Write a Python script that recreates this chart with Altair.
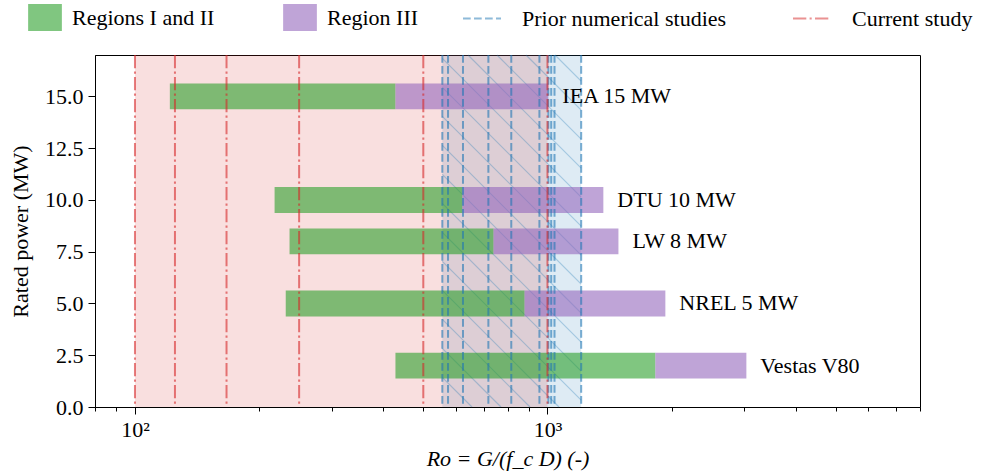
import altair as alt
import numpy as np
import pandas as pd

# ---------------- data ----------------
turbines = ["IEA 15 MW", "DTU 10 MW", "LW 8 MW", "NREL 5 MW", "Vestas V80"]
rated_power = [15.0, 10.0, 8.0, 5.0, 2.0]
ro_start = [121.5, 218.0, 237.0, 232.0, 428.0]      # start of Regions I and II
ro_region3 = [428.0, 622.0, 740.0, 880.0, 1826.0]   # start of Region III
ro_end = [1005.0, 1366.0, 1486.0, 1931.0, 3035.0]   # end of Region III

current_study_ro = [100.0, 125.0, 166.7, 250.0, 500.0, 1000.0]
prior_study_ro = [556.0, 574.0, 624.0, 719.0, 817.0, 956.0, 1005.0, 1021.0, 1040.0, 1207.0]

region_labels = ["Regions I and II", "Region III"]
study_labels = ["Prior numerical studies", "Current study"]

x_ticks = [80, 90, 100, 200, 300, 400, 500, 600, 700, 800, 900,
           1000, 2000, 3000, 4000, 5000, 6000, 7000, 8000]
y_ticks = [0.0, 2.5, 5.0, 7.5, 10.0, 12.5, 15.0]

# ---------------- layout / style ----------------
X_DOMAIN = [80, 8000]
Y_DOMAIN = [0, 17]
W, H = 825, 352
FONT = "Liberation Serif"
FS = 22
BLUE, RED, GREEN, PURPLE = "#1f77b4", "#d62728", "#2ca02c", "#9467bd"

bars = pd.DataFrame({
    "turbine": turbines * 2,
    "power": rated_power * 2,
    "region": [region_labels[0]] * len(turbines) + [region_labels[1]] * len(turbines),
    "lo": ro_start + ro_region3,
    "hi": ro_region3 + ro_end,
})
bars["y_lo"] = bars["power"] - 0.625
bars["y_hi"] = bars["power"] + 0.625

labels = pd.DataFrame({"turbine": turbines, "power": rated_power, "ro": ro_end})

spans = pd.DataFrame({
    "study": study_labels,
    "lo": [min(prior_study_ro), min(current_study_ro)],
    "hi": [max(prior_study_ro), max(current_study_ro)],
})

rules = pd.DataFrame({
    "study": [study_labels[0]] * len(prior_study_ro) + [study_labels[1]] * len(current_study_ro),
    "ro": prior_study_ro + current_study_ro,
})


# hatch pattern ("\\") over the prior-studies span
def hatch_segments(lo, hi, spacing=29.0):
    kx = W / np.log10(X_DOMAIN[1] / X_DOMAIN[0])
    ky = H / (Y_DOMAIN[1] - Y_DOMAIN[0])
    u0 = kx * np.log10(lo / X_DOMAIN[0])
    u1 = kx * np.log10(hi / X_DOMAIN[0])
    rows = []
    c = u0 - (u0 % spacing)
    while c < u1 + H + spacing:
        a = max(u0, c - H)
        b = min(u1, c)
        if b - a > 1:
            rows.append({
                "x": X_DOMAIN[0] * 10 ** (a / kx), "y": (c - a) / ky + Y_DOMAIN[0],
                "x2": X_DOMAIN[0] * 10 ** (b / kx), "y2": (c - b) / ky + Y_DOMAIN[0],
            })
        c += spacing
    return pd.DataFrame(rows)


hatch = hatch_segments(min(prior_study_ro), max(prior_study_ro))

# ---------------- scales / axes ----------------
xs = alt.Scale(type="log", domain=X_DOMAIN)
ys = alt.Scale(domain=Y_DOMAIN, nice=False, zero=False)

x_axis = alt.Axis(
    values=x_ticks,
    labelExpr="datum.value == 100 ? '10²' : (datum.value == 1000 ? '10³' : '')",
    tickSize={"condition": {"test": "datum.value == 100 || datum.value == 1000", "value": 7}, "value": 4},
    title="Ro = G/(f_c D) (-)",
    titleFontStyle="italic",
    labelPadding=5,
    titlePadding=8,
    labelFlush=False,
    labelOverlap=False,
)
y_axis = alt.Axis(
    values=y_ticks, format=".1f", tickSize=7, labelPadding=5,
    title="Rated power (MW)", titlePadding=12,
)

DASHES = [[7.7, 3.3], [13.3, 3.3, 2.1, 3.3]]

region_legend = alt.Legend(
    title=None, orient="none", legendX=-63.5, legendY=-51, direction="horizontal",
    symbolType="M-1.25,-1H1.25V1H-1.25Z", symbolSize=729, symbolOpacity=0.6,
    symbolStrokeWidth=0, labelOffset=13.5, columnPadding=68, padding=0,
    labelFont=FONT, labelFontSize=FS, labelColor="black", labelLimit=400,
)
study_legend = alt.Legend(
    title=None, orient="none", legendX=367, legendY=-56.5, direction="horizontal",
    symbolType="stroke", symbolSize=1444, symbolStrokeWidth=2, symbolOpacity=0.5,
    labelOffset=20, columnPadding=62, padding=0,
    labelFont=FONT, labelFontSize=FS, labelColor="black", labelLimit=400,
)

# ---------------- layers ----------------
span_layer = alt.Chart(spans).mark_rect(opacity=0.15).encode(
    x=alt.X("lo:Q", scale=xs, axis=x_axis),
    x2="hi:Q",
    y=alt.YDatum(Y_DOMAIN[0], scale=ys, axis=y_axis),
    y2=alt.Y2Datum(Y_DOMAIN[1]),
    fill=alt.Fill("study:N", scale=alt.Scale(domain=study_labels, range=[BLUE, RED]), legend=None),
)

hatch_layer = alt.Chart(hatch).mark_rule(color=BLUE, opacity=0.3, strokeWidth=1.2).encode(
    x=alt.X("x:Q", scale=xs, axis=x_axis),
    x2="x2:Q",
    y=alt.Y("y:Q", scale=ys, axis=y_axis),
    y2="y2:Q",
)

bar_layer = alt.Chart(bars).mark_rect(opacity=0.6).encode(
    x=alt.X("lo:Q", scale=xs, axis=x_axis),
    x2="hi:Q",
    y=alt.Y("y_lo:Q", scale=ys, axis=y_axis),
    y2="y_hi:Q",
    color=alt.Color("region:N", scale=alt.Scale(domain=region_labels, range=[GREEN, PURPLE]),
                    legend=region_legend),
)

rule_layer = alt.Chart(rules).mark_rule(strokeWidth=2, opacity=0.6).encode(
    x=alt.X("ro:Q", scale=xs, axis=x_axis),
    stroke=alt.Stroke("study:N", scale=alt.Scale(domain=study_labels, range=[BLUE, RED]),
                      legend=study_legend),
    strokeDash=alt.StrokeDash("study:N",
                              scale=alt.Scale(domain=study_labels, range=DASHES),
                              legend=study_legend),
)

text_layer = alt.Chart(labels).mark_text(
    align="left", baseline="middle", dx=14, font=FONT, fontSize=FS, color="black"
).encode(
    x=alt.X("ro:Q", scale=xs, axis=x_axis),
    y=alt.Y("power:Q", scale=ys, axis=y_axis),
    text="turbine:N",
)

chart = alt.layer(span_layer, hatch_layer, bar_layer, rule_layer, text_layer).resolve_scale(
    color="independent", fill="independent", stroke="independent", strokeDash="independent"
).properties(
    width=W, height=H,
    padding={"left": 95, "top": 55, "right": 75, "bottom": 69},
    autosize=alt.AutoSizeParams(type="none"),
    background="white",
).configure_view(
    stroke="black", strokeWidth=1
).configure_axis(
    labelFont=FONT, titleFont=FONT, labelFontSize=FS, titleFontSize=FS,
    labelColor="black", titleColor="black", tickColor="black", domainColor="black",
    grid=False, titleFontWeight="normal", tickWidth=1, domainWidth=1,
).configure_legend(
    labelFont=FONT, labelFontSize=FS, labelColor="black",
)

chart.save("out.html", embed_options={"renderer": "svg", "actions": False})
